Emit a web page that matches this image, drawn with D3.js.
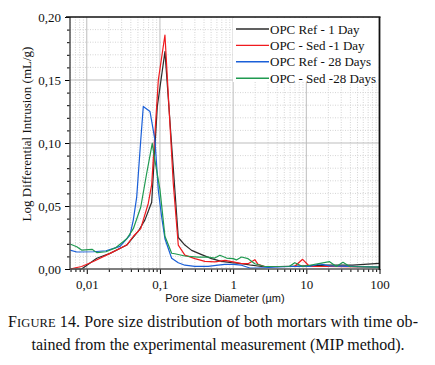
<!DOCTYPE html>
<html>
<head>
<meta charset="utf-8">
<script src="https://cdn.jsdelivr.net/npm/d3@7"></script>
<style>
  body { margin: 0; background: #fff; }
  svg { display: block; }
  .serif { font-family: "Times New Roman", "Liberation Serif", serif; }
  .sans { font-family: Arial, "Liberation Sans", sans-serif; }
</style>
</head>
<body>
<div id="chart"></div>
<script>
var width = 435;
var height = 365;

// series: pore diameter (um) and log differential intrusion (mL/g)
var refDay1_d = [0.0059, 0.0085, 0.0137, 0.0208, 0.0352, 0.0506, 0.0624, 0.0771, 0.092, 0.117, 0.178, 0.219, 0.271, 0.371, 0.507, 0.695, 0.951, 1.30, 1.78, 2.44, 4.3, 10, 20, 43, 99];
var refDay1_v = [0.0, 0.0, 0.0085, 0.0124, 0.019, 0.030, 0.039, 0.053, 0.129, 0.1725, 0.025, 0.019, 0.0148, 0.0114, 0.0082, 0.0061, 0.005, 0.0042, 0.003, 0.002, 0.002, 0.0025, 0.003, 0.003, 0.0045];

var sedDay1_d = [0.0059, 0.0085, 0.0123, 0.0208, 0.0352, 0.0433, 0.0546, 0.0692, 0.0771, 0.095, 0.117, 0.152, 0.178, 0.219, 0.30, 0.411, 0.562, 0.771, 1.0, 1.30, 1.6, 1.98, 2.19, 2.71, 6.9, 8.9, 11.1, 20, 99];
var sedDay1_v = [0.0, 0.002, 0.006, 0.0124, 0.019, 0.026, 0.032, 0.052, 0.067, 0.15, 0.1857, 0.068, 0.019, 0.011, 0.0082, 0.0061, 0.0056, 0.0069, 0.0056, 0.0042, 0.0042, 0.0074, 0.0037, 0.002, 0.002, 0.0077, 0.002, 0.002, 0.0015];

var ref28_d = [0.0059, 0.0073, 0.0123, 0.0183, 0.0285, 0.0390, 0.0433, 0.0481, 0.0546, 0.0592, 0.0731, 0.0811, 0.0855, 0.0948, 0.1054, 0.117, 0.1445, 0.178, 0.219, 0.30, 0.456, 0.624, 0.771, 1.0, 1.3, 1.69, 2.19, 5.9, 11.1, 15.2, 20.8, 99];
var ref28_v = [0.015, 0.0135, 0.0137, 0.0145, 0.018, 0.027, 0.039, 0.057, 0.102, 0.129, 0.125, 0.110, 0.102, 0.063, 0.0415, 0.024, 0.0085, 0.005, 0.003, 0.0021, 0.0021, 0.003, 0.0037, 0.0037, 0.003, 0.0008, 0.0008, 0.002, 0.002, 0.004, 0.0025, 0.0015];

var sed28_d = [0.0059, 0.0073, 0.0085, 0.0118, 0.0137, 0.0183, 0.0251, 0.0352, 0.0433, 0.0546, 0.0659, 0.0785, 0.0855, 0.1, 0.117, 0.1445, 0.160, 0.219, 0.333, 0.456, 0.562, 0.659, 0.813, 1.0, 1.11, 1.30, 1.6, 1.98, 2.71, 5.9, 6.95, 8.93, 20.8, 25.7, 31.7, 39.1, 99];
var sed28_v = [0.0198, 0.0177, 0.015, 0.0156, 0.013, 0.0137, 0.017, 0.024, 0.032, 0.049, 0.076, 0.0997, 0.086, 0.063, 0.026, 0.0125, 0.0121, 0.0103, 0.0095, 0.0095, 0.0087, 0.0109, 0.0087, 0.0082, 0.0072, 0.0095, 0.0082, 0.0042, 0.002, 0.0022, 0.005, 0.002, 0.0058, 0.002, 0.0053, 0.002, 0.0015];

var seriesNames = ["OPC Ref - 1 Day", "OPC - Sed -1 Day", "OPC Ref - 28 Days", "OPC - Sed -28 Days"];
var seriesColors = ["#2b2b2b", "#f01a1e", "#1a5fd8", "#1f9a50"];

var xTicks = [0.01, 0.1, 1, 10, 100];
var xTickLabels = ["0,01", "0,1", "1", "10", "100"];
var yTicks = [0, 0.05, 0.10, 0.15, 0.20];
var yTickLabels = ["0,00", "0,05", "0,10", "0,15", "0,20"];

var series = [
  { d: refDay1_d, v: refDay1_v },
  { d: sedDay1_d, v: sedDay1_v },
  { d: ref28_d, v: ref28_v },
  { d: sed28_d, v: sed28_v }
];

var margin = { top: 17, right: 55.5, bottom: 96, left: 70 };
var pw = width - margin.left - margin.right;
var ph = height - margin.top - margin.bottom;

var svg = d3.select("#chart").append("svg")
  .attr("width", width)
  .attr("height", height);

var x = d3.scaleLog().domain([0.0059, 100]).range([0, pw]);
var y = d3.scaleLinear().domain([0, 0.2]).range([ph, 0]);

var g = svg.append("g")
  .attr("transform", "translate(" + margin.left + "," + margin.top + ")");

// minor values
var xMinor = [];
[0.001, 0.01, 0.1, 1, 10].forEach(function(dec) {
  for (var k = 2; k <= 9; k++) {
    var v = dec * k;
    if (v > 0.0059 && v < 100) xMinor.push(v);
  }
});
var yMinor = d3.range(1, 20).map(function(i) { return i / 100; })
  .filter(function(v) { return Math.round(v * 100) % 5 != 0; });

// minor grid (dotted)
g.append("g").selectAll("line")
  .data(xMinor)
  .enter().append("line")
  .attr("x1", function(d) { return x(d); })
  .attr("x2", function(d) { return x(d); })
  .attr("y1", 0).attr("y2", ph)
  .attr("stroke", "#d4d4d4")
  .attr("stroke-dasharray", "1,1.5");

g.append("g").selectAll("line")
  .data(yMinor)
  .enter().append("line")
  .attr("y1", function(d) { return y(d); })
  .attr("y2", function(d) { return y(d); })
  .attr("x1", 0).attr("x2", pw)
  .attr("stroke", "#d4d4d4")
  .attr("stroke-dasharray", "1,1.5");

// major grid
g.append("g").selectAll("line")
  .data(xTicks.slice(0, 4))
  .enter().append("line")
  .attr("x1", function(d) { return x(d); })
  .attr("x2", function(d) { return x(d); })
  .attr("y1", 0).attr("y2", ph)
  .attr("stroke", "#bdbdbd");

g.append("g").selectAll("line")
  .data(yTicks.slice(1, 4))
  .enter().append("line")
  .attr("y1", function(d) { return y(d); })
  .attr("y2", function(d) { return y(d); })
  .attr("x1", 0).attr("x2", pw)
  .attr("stroke", "#bdbdbd");

// legend background covers the grid
var legX = 163, legY = 1;
g.append("rect")
  .attr("x", legX).attr("y", legY)
  .attr("width", pw - legX - 1).attr("height", 64)
  .attr("fill", "#fff");

// curves
var line = d3.line()
  .x(function(p) { return x(p[0]); })
  .y(function(p) { return y(p[1]); });

series.forEach(function(s, i) {
  var pts = s.d.map(function(d, j) { return [d, s.v[j]]; });
  g.append("path")
    .datum(pts)
    .attr("fill", "none")
    .attr("stroke", seriesColors[i])
    .attr("stroke-width", 1.2)
    .attr("stroke-linejoin", "round")
    .attr("d", line);
});

// axes
var yAxis = g.append("g")
  .attr("class", "serif")
  .call(d3.axisLeft(y).tickValues(yTicks).tickSize(5).tickFormat(function(d, i) { return yTickLabels[i]; }));
yAxis.selectAll("text").attr("font-size", "13px").attr("fill", "#111").attr("dx", "-1");
yAxis.select(".domain").remove();

var yMinorAxis = g.append("g")
  .call(d3.axisLeft(y).tickValues(yMinor).tickSize(3).tickFormat(""));
yMinorAxis.select(".domain").remove();

var xAxis = g.append("g")
  .attr("class", "serif")
  .attr("transform", "translate(0," + ph + ")")
  .call(d3.axisBottom(x).tickValues(xTicks).tickSize(5).tickFormat(function(d, i) { return xTickLabels[i]; }));
xAxis.selectAll("text").attr("font-size", "13px").attr("fill", "#111").attr("dy", "0.9em");
xAxis.select(".domain").remove();

var xMinorAxis = g.append("g")
  .attr("transform", "translate(0," + ph + ")")
  .call(d3.axisBottom(x).tickValues(xMinor).tickSize(3).tickFormat(""));
xMinorAxis.select(".domain").remove();

// frame
g.append("line").attr("x1", 0).attr("x2", 0).attr("y1", 0).attr("y2", ph)
  .attr("stroke", "#555").attr("stroke-width", 1.5);
g.append("line").attr("x1", 0).attr("x2", pw).attr("y1", ph).attr("y2", ph)
  .attr("stroke", "#555").attr("stroke-width", 1.5);
g.append("line").attr("x1", -4).attr("x2", pw + 1).attr("y1", 0).attr("y2", 0)
  .attr("stroke", "#111").attr("stroke-width", 1.5);
g.append("line").attr("x1", pw).attr("x2", pw).attr("y1", 0).attr("y2", ph + 1)
  .attr("stroke", "#111").attr("stroke-width", 1.8);

// legend
var leg = g.append("g").attr("class", "serif");
seriesNames.forEach(function(name, i) {
  var cy = 12 + i * 16.4;
  leg.append("line")
    .attr("x1", 166).attr("x2", 199)
    .attr("y1", cy).attr("y2", cy)
    .attr("stroke", seriesColors[i])
    .attr("stroke-width", 1.4);
  leg.append("text")
    .attr("x", 200).attr("y", cy + 4.5)
    .attr("font-size", "13px")
    .attr("fill", "#111")
    .text(name);
});

// axis titles
svg.append("text")
  .attr("class", "serif")
  .attr("transform", "translate(31,134) rotate(-90)")
  .attr("text-anchor", "middle")
  .attr("font-size", "13px")
  .attr("fill", "#111")
  .text("Log Differential Intrusion (mL/g)");

svg.append("text")
  .attr("class", "sans")
  .attr("x", 225).attr("y", 302)
  .attr("text-anchor", "middle")
  .attr("font-size", "11px")
  .attr("fill", "#111")
  .text("Pore size Diameter (\u00b5m)");

// caption
var cap1 = svg.append("text")
  .attr("class", "serif")
  .attr("x", 8).attr("y", 327)
  .attr("font-size", "16px")
  .attr("textLength", 410)
  .attr("lengthAdjust", "spacing")
  .attr("fill", "#111");
cap1.append("tspan").text("F");
cap1.append("tspan").attr("font-size", "12.5px").text("IGURE");
cap1.append("tspan").text(" 14. Pore size distribution of both mortars with time ob-");

svg.append("text")
  .attr("class", "serif")
  .attr("x", 218).attr("y", 350)
  .attr("text-anchor", "middle")
  .attr("font-size", "16px")
  .attr("fill", "#111")
  .text("tained from the experimental measurement (MIP method).");
</script>
</body>
</html>
